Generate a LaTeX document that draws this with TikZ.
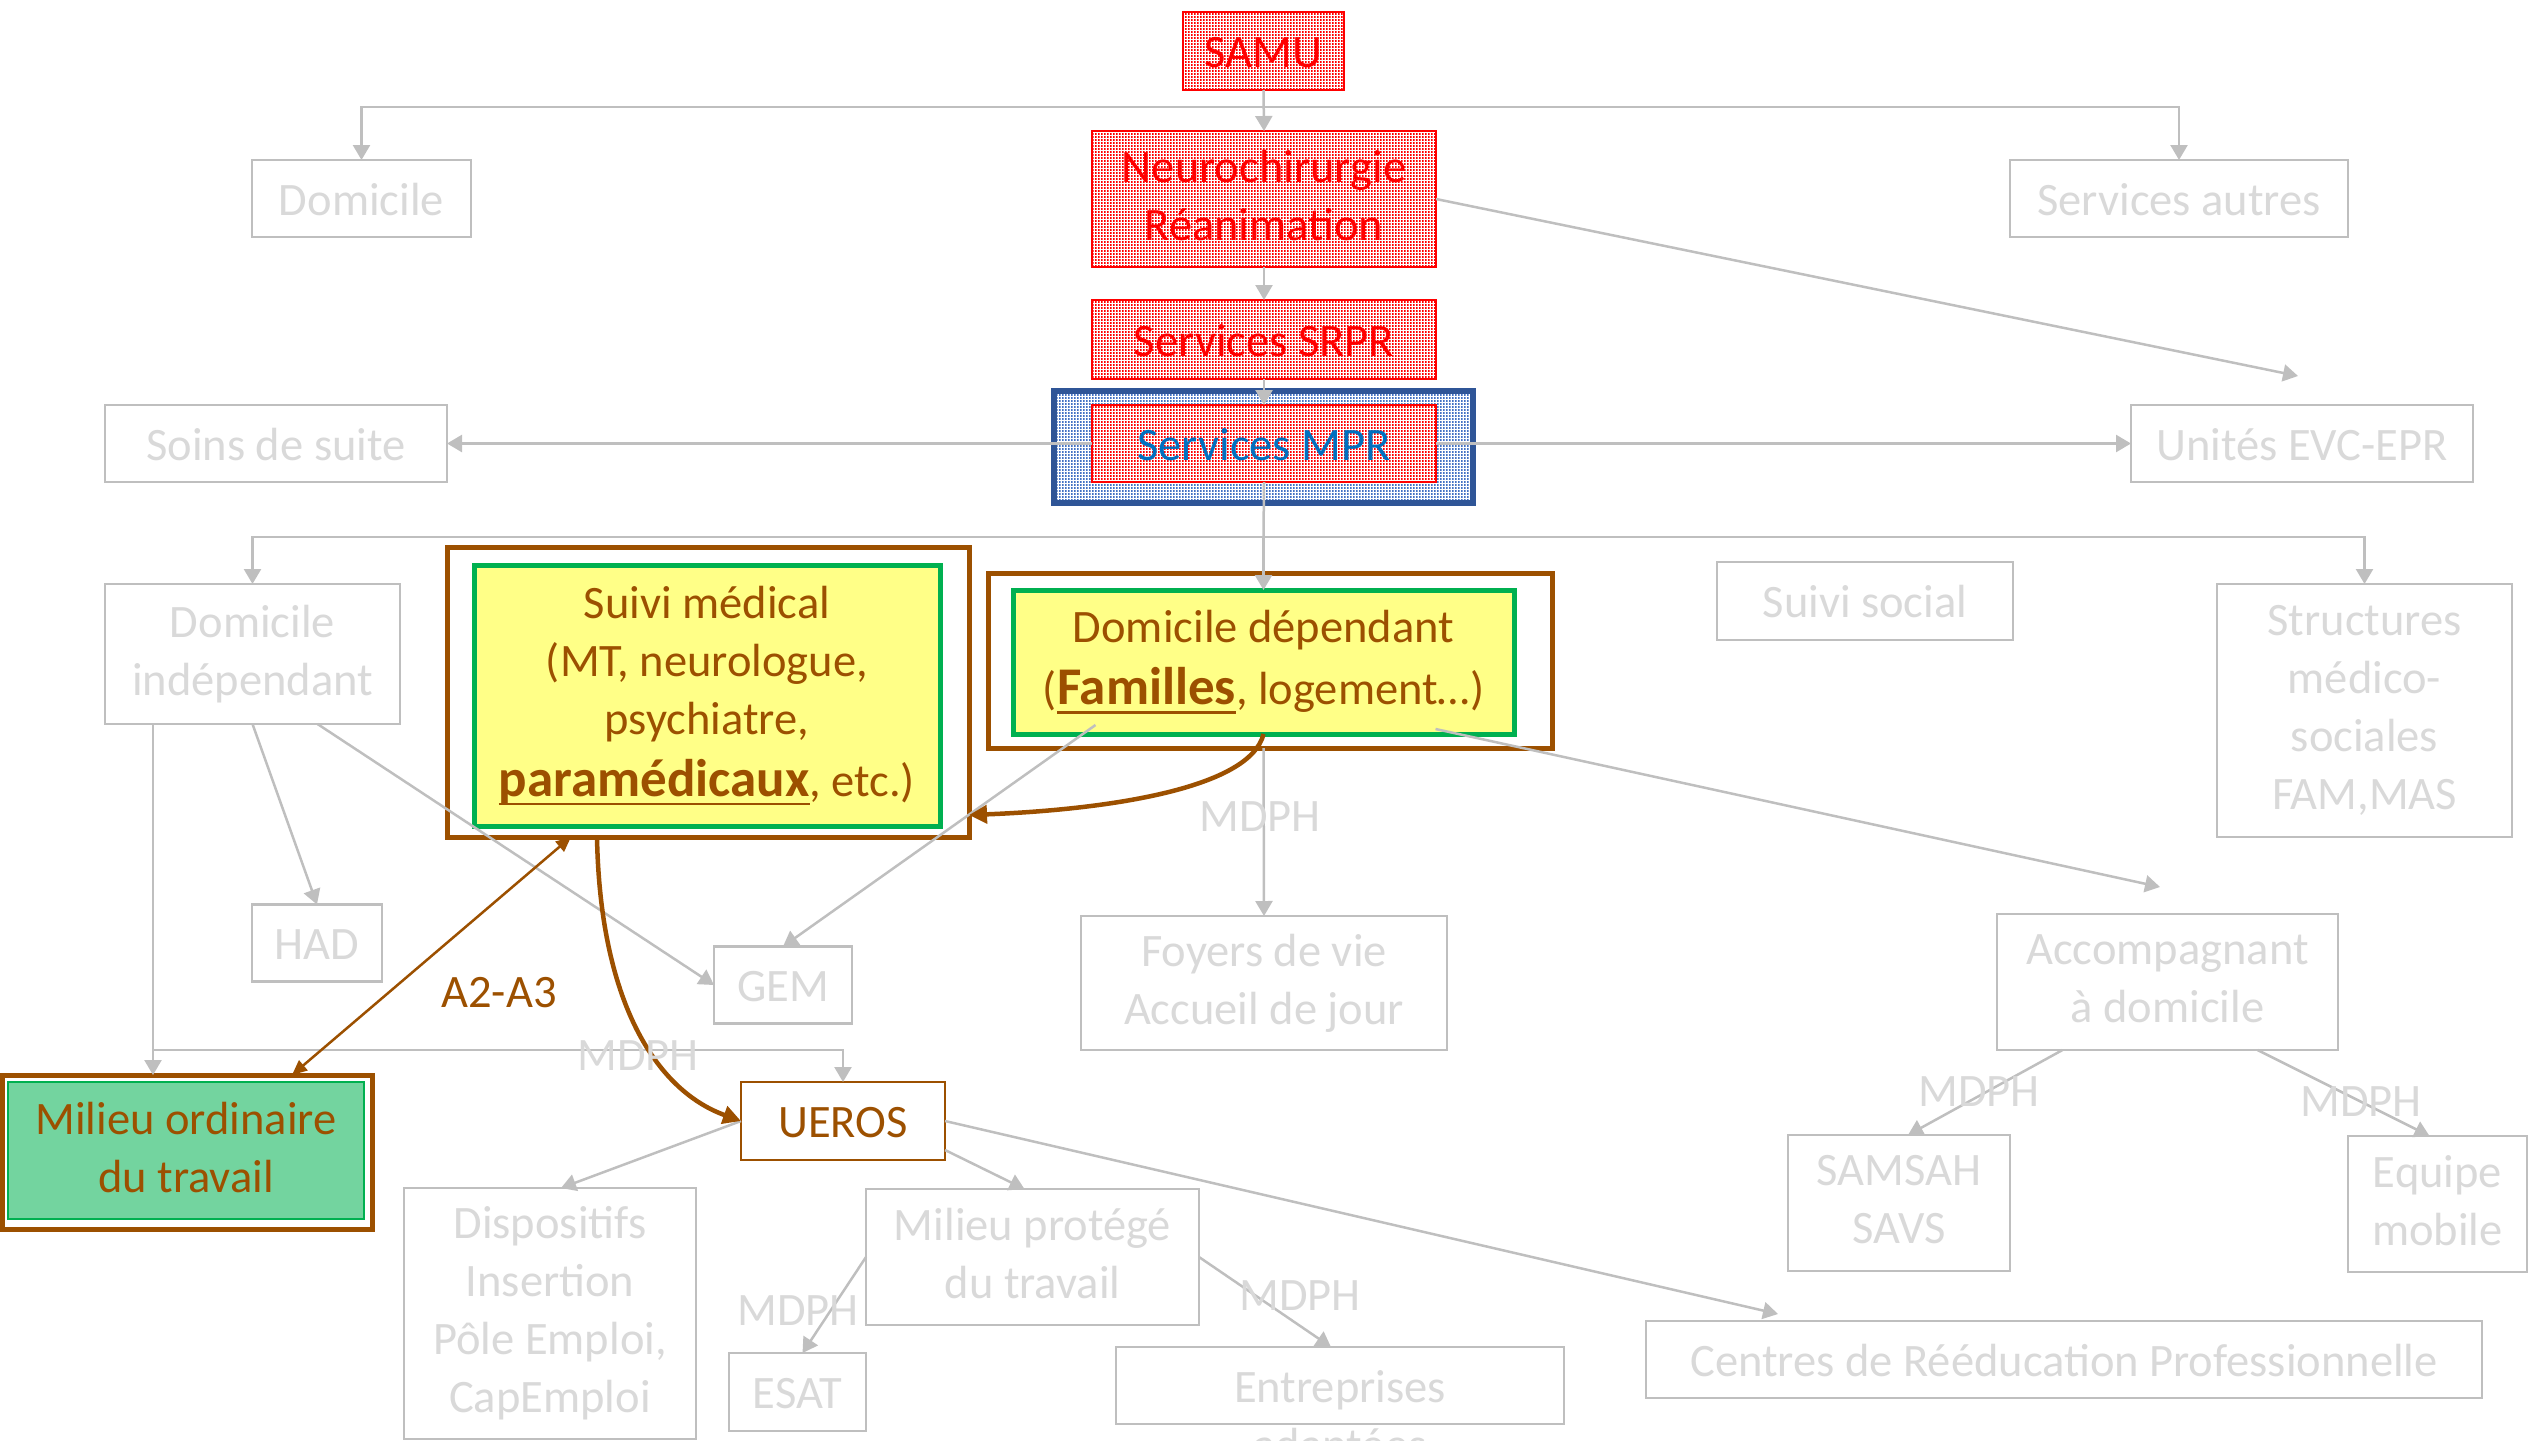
\documentclass[tikz,border=0pt]{standalone}
\usepackage{fontspec}
\setmainfont{Carlito}
\usetikzlibrary{arrows.meta,patterns}
\definecolor{gtext}{HTML}{D9D9D9}
\definecolor{gbord}{HTML}{BFBFBF}
\definecolor{brn}{HTML}{9C5000}
\definecolor{grn}{HTML}{00B050}
\definecolor{bluebd}{HTML}{2F5597}
\definecolor{bluedot}{HTML}{4472C4}
\definecolor{bluetx}{HTML}{0070C0}
\definecolor{ylwfill}{RGB}{255,255,135}
\pgfdeclarepatternformonly{sqdots}{\pgfpointorigin}{\pgfpoint{1.5pt}{1.5pt}}{\pgfpoint{3pt}{3pt}}{\pgfpathrectangle{\pgfpointorigin}{\pgfpoint{1.5pt}{1.5pt}}\pgfusepath{fill}}
\newsavebox\ulbox
\newcommand\ulbf[1]{\sbox\ulbox{\fontsize{53}{58}\selectfont\bfseries #1}\rlap{\rule[-0.2em]{\wd\ulbox}{0.06em}}\usebox\ulbox}
\begin{document}
\begin{tikzpicture}[x=1pt,y=-1pt,
  font=\fontsize{46.5}{58}\selectfont,
  every node/.style={inner sep=0pt, outer sep=0pt, align=center},
  execute at begin node={\rule[-0.14em]{0pt}{1.0em}},
  execute at end node={\rule[-0.14em]{0pt}{0.94em}},
  sz/.style 2 args={minimum width=#1pt, minimum height=#2pt},
  gbox/.style={draw=gbord, line width=2.5pt, text=gtext, fill=white},
  gtxt/.style={text=gtext},
  redbox/.style={draw=red, line width=2pt, text=red, preaction={fill=white}, pattern=sqdots, pattern color=red},
  bluebox/.style={draw=bluebd, line width=5.5pt, preaction={fill=white}, pattern=sqdots, pattern color=bluedot},
  outerbr/.style={draw=brn, line width=5pt, fill=white},
  yelbox/.style={draw=grn, line width=5pt, text=brn, fill=ylwfill},
  grnbox/.style={draw=grn, line width=2pt, text=brn, fill=grn!55},
  brbox/.style={draw=brn, line width=2pt, text=brn, fill=white},
  gline/.style={draw=gbord, line width=2.5pt},
  garrow/.style={gline, -{Triangle[length=15pt,width=17pt]}},
  bcurve/.style={draw=brn, line width=4.5pt, -{Triangle[length=18pt,width=18pt]}},
  a23/.style={draw=brn, line width=2.5pt, {Triangle[length=15pt,width=13pt]}-{Triangle[length=15pt,width=13pt]}},
]
\useasboundingbox (0,0) rectangle (2529,1440);

% red chain
\node[redbox, sz={161}{78}] (samu) at (1263.5,51) {SAMU};
\node[redbox, sz={344}{136}] (neuro) at (1264,199) {Neurochirurgie\\Réanimation};
\node[redbox, sz={344}{79}] (srpr) at (1264,339.5) {Services SRPR};
\node[bluebox, sz={419}{112}] (mprout) at (1263.5,447) {};
\node[redbox, text=bluetx, sz={344}{77}] (mprin) at (1264,443.5) {Services MPR};

% grey boxes
\node[gbox, sz={219}{77}] (dom) at (361.5,198.5) {Domicile};
\node[gbox, sz={338}{77}] (autres) at (2179,198.5) {Services autres};
\node[gbox, sz={342}{77}] (soins) at (276,443.5) {Soins de suite};
\node[gbox, sz={342}{77}] (unites) at (2302,443.5) {Unités EVC-EPR};
\node[gbox, sz={295}{140}] (domind) at (252.5,654) {Domicile\\indépendant};
\node[gbox, sz={296}{78}] (social) at (1865,601) {Suivi social};
\node[gbox, sz={295}{253}] (struct) at (2364.5,710.5) {Structures\\médico-\\sociales\\FAM,MAS};
\node[gbox, sz={130}{77}] (had) at (317,943) {HAD};
\node[gbox, sz={138}{77}] (gem) at (783,985) {GEM};
\node[gbox, sz={366}{134}] (foyers) at (1264,983) {Foyers de vie\\Accueil de jour};
\node[gbox, sz={341}{136}] (accomp) at (2167.5,982) {Accompagnant\\à domicile};
\node[gbox, sz={292}{251}] (disp) at (550,1313.5) {Dispositifs\\Insertion\\Pôle Emploi,\\CapEmploi};
\node[gbox, sz={333}{136}] (mprot) at (1032.5,1257) {Milieu protégé\\du travail};
\node[gbox, sz={137}{78}] (esat) at (797.5,1392) {ESAT};
\node[gbox, sz={448}{77}] (entr) at (1340,1385.5) {};
\node[gtxt] (entrtxt) at (1340,1419) {Entreprises\\adaptées};
\node[gbox, sz={836}{77}] (centres) at (2064,1359.5) {Centres de Rééducation Professionnelle};
\node[gbox, sz={222}{136}] (samsah) at (1899,1203) {SAMSAH\\SAVS};
\node[gbox, sz={179}{136}] (equipe) at (2437.5,1204) {Equipe\\mobile};

% brown / green boxes
\node[outerbr, sz={522}{290}] (suiviout) at (708,692) {};
\node[yelbox, sz={466}{261}] (suivi) at (707,695.5) {Suivi médical\\(MT, neurologue,\\psychiatre,\\[4pt]\ulbf{paramédicaux}, etc.)};
\node[outerbr, sz={564}{175}] (domdepout) at (1270,660.5) {};
\node[yelbox, sz={501}{144}] (domdep) at (1263.5,662) {Domicile dépendant\\[4pt](\ulbf{Familles}, logement…)};
\node[outerbr, sz={370}{154}] (milout) at (187,1152) {};
\node[grnbox, sz={356}{137}] (milin) at (186,1150.5) {Milieu ordinaire\\du travail};
\node[brbox, sz={204}{78}] (ueros) at (843,1121) {UEROS};

% junctions and free ends
\coordinate (j1) at (1263.5,107);
\coordinate (j2) at (1263.5,537);
\coordinate (j3) at (153,1050);
\coordinate (e1) at (2298,376);
\coordinate (e2) at (2160,887);
\coordinate (e3) at (1778,1314);

% grey connectors
\draw[garrow] (samu.south) -- (neuro.north);
\draw[garrow] (j1) -| (dom.north);
\draw[garrow] (j1) -| (autres.north);
\draw[garrow] (neuro.south) -- (srpr.north);
\draw[garrow] (srpr.south) -- (mprin.north);
\draw[garrow] (neuro.east) -- (e1);
\draw[garrow] (mprin.west) -- (soins.east);
\draw[garrow] (mprin.east) -- (unites.west);
\draw[gline] (mprin.south) -- (j2);
\draw[garrow] (j2) -| (domind.north);
\draw[garrow] (j2) -| (struct.north);
\draw[garrow] (j2) -- (domdep.north);
\draw[garrow] (domind.south) -- (had.north);
\draw[garrow] ([shift={(65,0)}]domind.south) -- (gem.west);
\draw[garrow] ([shift={(-168,-9)}]domdep.south) -- (gem.north);
\draw[garrow] ([shift={(172,-5)}]domdep.south) -- (e2);
\draw[garrow] (domdep.south |- domdepout.south) -- (foyers.north);
\draw[gline] (domind.south -| j3) -- (j3);
\draw[garrow] (j3) -- (milout.north -| j3);
\draw[garrow] (j3) -| (ueros.north);
\draw[garrow] (ueros.west) -- ([shift={(11,0)}]disp.north);
\draw[garrow] ([shift={(0,29)}]ueros.east) -- ([shift={(-8,0)}]mprot.north);
\draw[garrow] (ueros.east) -- (e3);
\draw[garrow] (mprot.west) -- ([shift={(5,0)}]esat.north);
\draw[garrow] (mprot.east) -- ([shift={(-9,0)}]entr.north);
\draw[garrow] ([shift={(-105,0)}]accomp.south) -- ([shift={(9,0)}]samsah.north);
\draw[garrow] ([shift={(90,0)}]accomp.south) -- ([shift={(-8,0)}]equipe.north);

% brown connectors
\draw[bcurve] (domdep.south) .. controls (1250,790) and (1100,810) .. ([shift={(0,123)}]suiviout.east);
\draw[bcurve] ([shift={(-111,0)}]suiviout.south) .. controls (600,1000) and (655,1090) .. (ueros.west);
\draw[a23] ([shift={(-137,0)}]suiviout.south) -- ([shift={(105,0)}]milout.north);

% labels
\node[gtxt] (m1) at (1260,815) {MDPH};
\node[gtxt] (m2) at (638,1054) {MDPH};
\node[gtxt] (m3) at (798,1309) {MDPH};
\node[gtxt] (m4) at (1300,1294) {MDPH};
\node[gtxt] (m5) at (1979,1090) {MDPH};
\node[gtxt] (m6) at (2361,1100) {MDPH};
\node[text=brn] (a2a3) at (499,991) {A2-A3};
\end{tikzpicture}
\end{document}
